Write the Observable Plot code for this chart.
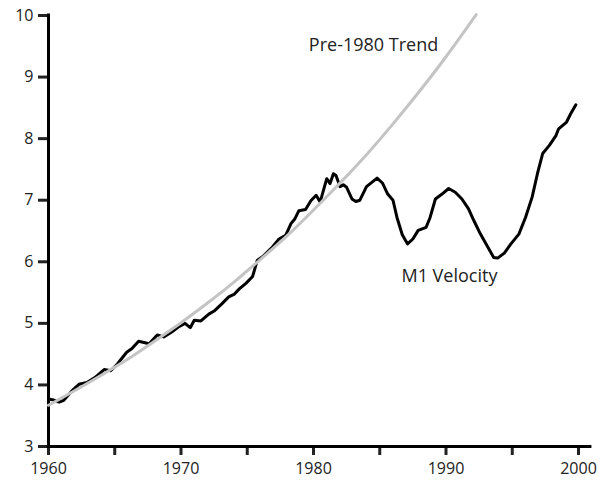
<!DOCTYPE html>
<html>
<head>
<meta charset="utf-8">
<script src="https://cdn.jsdelivr.net/npm/d3@7"></script>
<script src="https://cdn.jsdelivr.net/npm/@observablehq/plot@0.6"></script>
<style>
  html, body { margin: 0; padding: 0; background: #fff; }
  #chart svg { display: block; }
</style>
</head>
<body>
<div id="chart"></div>
<script>
// M1 velocity
const m1Years = [1960.0,1960.3,1960.8,1961.15,1961.8,1962.3,1962.9,1963.5,1964.2,1964.7,1965.2,1965.9,1966.3,1966.8,1967.2,1967.6,1968.2,1968.7,1969.3,1969.8,1970.3,1970.7,1971.0,1971.5,1972.1,1972.5,1973.1,1973.6,1974.0,1974.4,1974.9,1975.4,1975.75,1976.25,1976.9,1977.4,1977.9,1978.3,1978.6,1978.9,1979.4,1979.8,1980.2,1980.5,1981.0,1981.25,1981.5,1981.7,1982.0,1982.25,1982.5,1982.9,1983.2,1983.5,1984.0,1984.8,1985.2,1985.6,1986.0,1986.3,1986.7,1987.1,1987.5,1987.9,1988.5,1988.8,1989.2,1989.7,1990.2,1990.7,1991.2,1991.7,1992.1,1992.6,1993.1,1993.6,1993.9,1994.4,1994.9,1995.5,1996.0,1996.5,1996.9,1997.3,1997.8,1998.3,1998.5,1999.1,1999.4,1999.8];
const m1Values = [3.77,3.76,3.72,3.75,3.91,4.01,4.04,4.12,4.25,4.23,4.34,4.53,4.59,4.71,4.69,4.67,4.81,4.78,4.86,4.94,5.00,4.93,5.05,5.04,5.15,5.20,5.32,5.43,5.47,5.56,5.65,5.76,6.02,6.10,6.24,6.37,6.43,6.62,6.70,6.83,6.85,6.99,7.08,6.97,7.35,7.27,7.43,7.40,7.22,7.25,7.21,7.02,6.98,7.00,7.22,7.36,7.28,7.10,7.00,6.72,6.44,6.29,6.37,6.51,6.56,6.72,7.02,7.10,7.19,7.13,7.02,6.86,6.67,6.45,6.26,6.07,6.06,6.14,6.29,6.45,6.72,7.05,7.43,7.76,7.89,8.05,8.16,8.27,8.40,8.55];

// Pre-1980 trend
const trendYears = [1960,1962,1964,1966,1968,1970,1972,1974,1976,1978,1980,1982,1984,1986,1988,1990,1992,1992.2];
const trendValues = [3.67,3.91,4.16,4.42,4.71,5.01,5.33,5.67,6.04,6.42,6.84,7.28,7.74,8.24,8.77,9.33,9.93,9.99];

// Axis ticks
const xTicks = [1960,1965,1970,1975,1980,1985,1990,1995,2000];
const xLabelYears = [1960,1970,1980,1990,2000];
const yTicks = [3,4,5,6,7,8,9,10];

// Annotations
const trendLabel = {t: "Pre-1980 Trend", x: 1979.65, y: 9.51};
const m1Label = {t: "M1 Velocity", x: 1990.26, y: 5.76};

const m1 = m1Years.map((x, i) => ({x, y: m1Values[i]}));
const trend = trendYears.map((x, i) => ({x, y: trendValues[i]}));

const chart = Plot.plot({
  width: 604,
  height: 481,
  marginLeft: 48,
  marginRight: 26,
  marginTop: 15,
  marginBottom: 35,
  style: {fontFamily: "'Open Sans', sans-serif", fontSize: "16px", color: "#222", background: "#fff"},
  x: {domain: [1960, 2000]},
  y: {domain: [3, 10]},
  marks: [
    Plot.axisX({ticks: xTicks, tickSize: 9, tickPadding: 7, strokeWidth: 3, label: null,
      tickFormat: d => xLabelYears.includes(d) ? String(d) : "", fontSize: 16, fill: "#222"}),
    Plot.axisY({ticks: yTicks, tickSize: 10, tickPadding: 5, strokeWidth: 3, label: null,
      tickFormat: d => String(d), fontSize: 16, fill: "#222"}),
    Plot.ruleX([1960], {y1: 3, y2: 10, stroke: "#000", strokeWidth: 3, strokeLinecap: "square"}),
    Plot.ruleY([3], {x1: 1960, x2: 2000.9, stroke: "#000", strokeWidth: 3, strokeLinecap: "square"}),
    Plot.line(m1, {x: "x", y: "y", stroke: "#000", strokeWidth: 3, strokeLinejoin: "round"}),
    Plot.line(trend, {x: "x", y: "y", stroke: "#c4c4c4", strokeWidth: 3, curve: "natural"}),
    Plot.text([trendLabel], {x: "x", y: "y", text: "t", textAnchor: "start", fontSize: 18, fill: "#222"}),
    Plot.text([m1Label], {x: "x", y: "y", text: "t", textAnchor: "middle", fontSize: 18, fill: "#222"})
  ]
});
document.getElementById("chart").appendChild(chart);
</script>
</body>
</html>
